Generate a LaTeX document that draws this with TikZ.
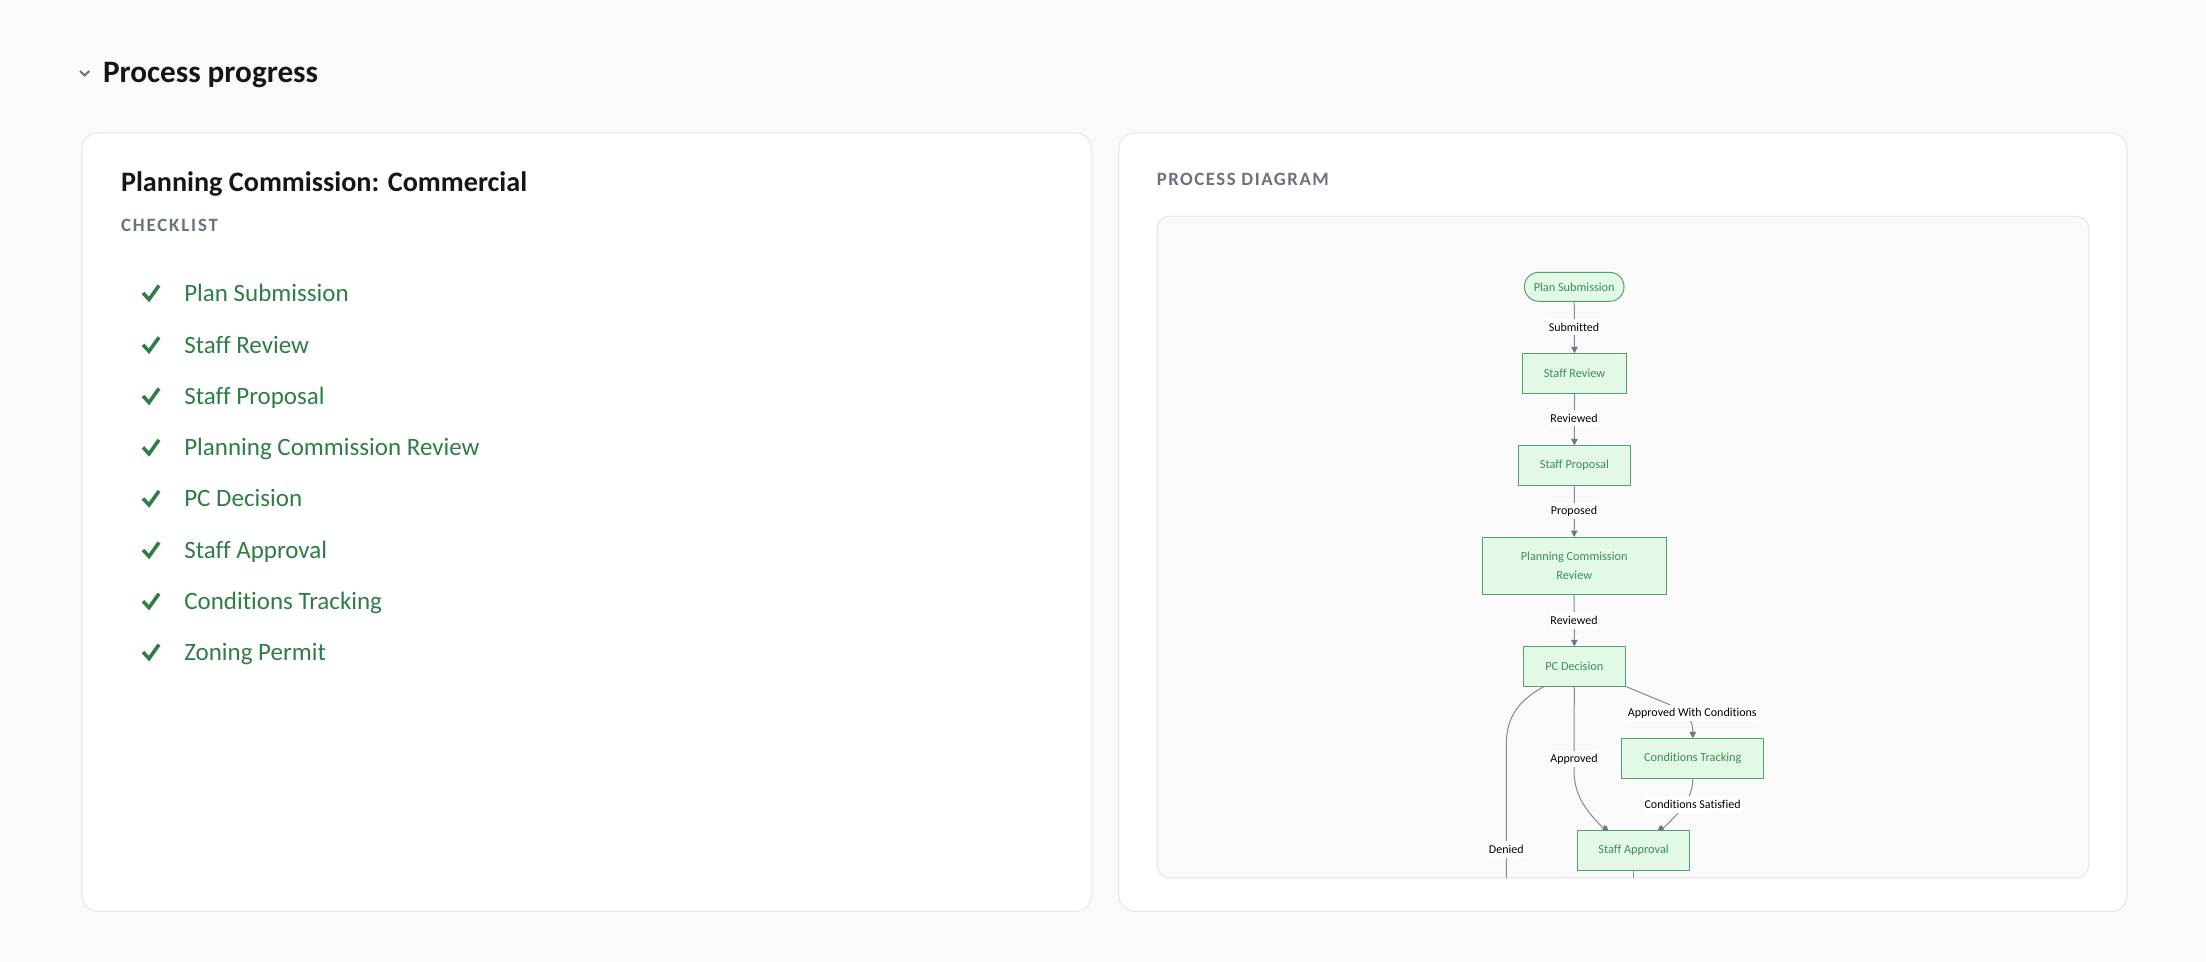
\documentclass[tikz,border=0pt]{standalone}
\usepackage{fontspec}
\usetikzlibrary{arrows.meta,calc}
\setmainfont[Ligatures=NoCommon]{Carlito}
\definecolor{pagebg}{HTML}{FAFAFA}
\definecolor{cardline}{HTML}{E8E9EC}
\definecolor{inkdark}{HTML}{14161A}
\definecolor{graytxt}{HTML}{6B7280}
\definecolor{doneg}{HTML}{2E7D45}
\definecolor{nodefill}{HTML}{E3F9E8}
\definecolor{nodeline}{HTML}{559F6E}
\definecolor{nodetxt}{HTML}{3E8C55}
\definecolor{edgec}{HTML}{8089A3}
\definecolor{headc}{HTML}{6B7490}
\tikzset{
 x=0.5pt,y=-0.5pt,
 card/.style={draw=cardline,line width=0.6pt,fill=white,rounded corners=8pt},
 panel/.style={draw=cardline,line width=0.6pt,fill=pagebg,rounded corners=6pt},
 txt/.style={inner sep=0pt,outer sep=0pt,anchor=base west},
 flow/.style={draw=nodeline,line width=0.5pt,fill=nodefill,text=nodetxt,inner sep=0pt,outer sep=0pt,align=center,font=\fontsize{6.15pt}{9.2pt}\selectfont},
 elab/.style={fill=white,text=black,inner sep=0pt,outer sep=0pt,minimum height=8.2pt,font=\fontsize{6pt}{8pt}\selectfont},
 edge/.style={draw=edgec,line width=0.5pt},
 arr/.style={edge,-{Triangle[length=3.2pt,width=3.2pt,color=headc,fill=headc]}},
 headup/.style={fill=headc,draw=none},
 tick/.style={draw=doneg,line width=1.75pt,line cap=butt,line join=miter},
 item/.style={txt,text=doneg,font=\fontsize{12.5pt}{15pt}\selectfont},
 caps/.style={txt,text=graytxt,font=\fontsize{9.4pt}{11pt}\bfseries\selectfont\addfontfeature{LetterSpace=8}},
 headfont/.style={txt,text=inkdark,font=\bfseries\selectfont},
}
\newcommand{\flownode}[7]{\node[flow,minimum width=#3*0.5pt,minimum height=#4*0.5pt,#7] (#1) at (#5,#6) {#2};}
\begin{document}
\begin{tikzpicture}
\useasboundingbox (0,0) rectangle (2206,962);
\fill[pagebg] (0,0) rectangle (2206,962);
% heading
\draw[draw=graytxt,line width=1pt] (80,71) -- (84.7,75.5) -- (89.4,71);
\node[headfont,font=\fontsize{15.6pt}{17pt}\bfseries\selectfont] (head) at (103,82.8) {Process progress};
% cards
\draw[card] (82,132.8) rectangle (1091.5,911.3);
\draw[card] (1118.8,132.8) rectangle (2127,911.3);
\draw[panel] (1157.3,216.3) rectangle (2088.7,878);
% left card
\node[headfont,font=\fontsize{14.1pt}{17pt}\bfseries\selectfont] (title) at (121,191.5) {Planning Commission: Commercial};
\node[caps] (chk) at (121,232) {\addfontfeature{LetterSpace=10}CHECKLIST};
\foreach \y/\t/\n in {301.5/Plan Submission/a,353.3/Staff Review/b,404.5/Staff Proposal/c,455.9/Planning Commission Review/d,507/PC Decision/e,558.5/Staff Approval/f,609.7/Conditions Tracking/g,660.6/Zoning Permit/h}{
  \draw[tick] (143,{\y-8.5}) -- (149,{\y-2}) -- (159,{\y-16});
  \node[item] (it\n) at (184.3,\y) {\t};
}
% right card
\node[caps] (pd) at (1156.8,185.2) {PROCESS DIAGRAM};
% flowchart
\node[flow,minimum width=49.8pt,minimum height=14.5pt,rounded corners=7.2pt] (n1) at (1574.2,286.8) {Plan Submission};
\flownode{n2}{Staff Review}{104.4}{40}{1574.5}{373.3}{}
\flownode{n3}{Staff Proposal}{112.7}{39.7}{1574.4}{465.2}{}
\flownode{n4}{Planning Commission\\Review}{183.7}{57.3}{1574.2}{565.7}{}
\flownode{n5}{PC Decision}{102}{40}{1574.3}{666.3}{}
\flownode{n6}{Conditions Tracking}{141.7}{40}{1692.8}{758.3}{}
\flownode{n7}{Staff Approval}{112.7}{40}{1633.6}{850.3}{}
\coordinate (endd) at (1506.3,878);
\coordinate (enda) at (1633.3,878);
\coordinate (hl) at ($(n7.north west)+(28,0)$);
\coordinate (hr) at ($(n7.north east)+(-29,0)$);
\draw[arr] (n1.south) -- (n2.north);
\draw[arr] (n2.south) -- (n3.north);
\draw[arr] (n3.south) -- (n4.north);
\draw[arr] (n4.south) -- (n5.north);
\draw[edge] ($(n5.south west)+(21,0)$) .. controls (1520,700) and (1506.3,715) .. (1506.3,745) -- (endd);
\draw[edge] (n7.south -| enda) -- (enda);
\draw[edge] (n5.south) -- (1574,770) .. controls (1574,795) and (1585,810) .. (hl);
\draw[arr] (n5.south east) -- (1668,704) .. controls (1690,714) and (1692.8,722) .. (n6.north);
\draw[edge] (n6.south) .. controls (1692.8,795) and (1685,808) .. (hr);
\fill[headup] ($(hl)+(-3,0)$) -- ($(hl)+(3,0)$) -- ($(hl)+(1.5,-4)$) -- ($(hl)+(-1,-5)$) -- cycle;
\fill[headup] ($(hr)+(-3,0)$) -- ($(hr)+(3,0)$) -- ($(hr)+(1,-5)$) -- ($(hr)+(-1.5,-4)$) -- cycle;
\node[elab,minimum width=25.6pt] (l1) at (1574,327) {Submitted};
\node[elab,minimum width=23.4pt] (l2) at (1574,418.3) {Reviewed};
\node[elab,minimum width=23.4pt] (l3) at (1574,511) {Proposed};
\node[elab,minimum width=23.4pt] (l4) at (1574,620.3) {Reviewed};
\node[elab,minimum width=63.6pt] (l5) at (1692.3,713) {Approved With Conditions};
\node[elab,minimum width=23.6pt] (l6) at (1574,759) {Approved};
\node[elab,minimum width=49pt] (l7) at (1692.6,804.3) {Conditions Satisfied};
\node[elab,minimum width=17.6pt] (l8) at (1506.3,849.3) {Denied};
\end{tikzpicture}
\end{document}
